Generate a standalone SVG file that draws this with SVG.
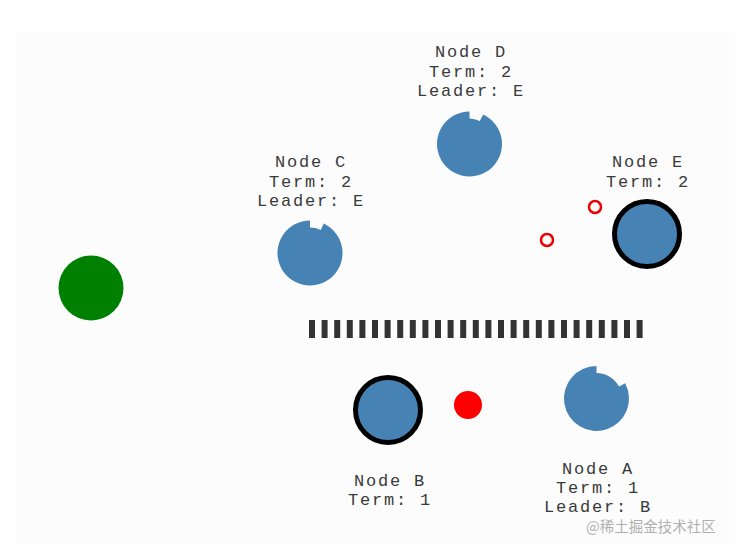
<svg xmlns="http://www.w3.org/2000/svg" width="740" height="549" viewBox="0 0 740 549">
<style>
.lbl{font-family:"Liberation Mono","Courier New",monospace;font-size:17px;letter-spacing:1.8px;fill:#3a3a3a;text-anchor:middle}
.node{fill:#4682B4}
.sel{stroke:#000;stroke-width:5}
.msg{fill:#fff;stroke:#e00;stroke-width:2.5}
.wm{font-family:"Noto Sans CJK SC","Noto Sans",sans-serif;font-size:14.5px;fill:#b0b0b0}
</style>
<rect width="740" height="549" fill="#fff"/>
<rect x="15" y="32" width="720" height="513" fill="#fcfcfc"/>
<g id="connectors">
<line x1="309" y1="329" x2="643" y2="329" stroke="#333" stroke-width="18" stroke-dasharray="6 6.6"/>
</g>
<g id="client"><circle cx="91" cy="288" r="32.5" fill="#008000"/></g>
<g id="nodeD">
<path class="node" d="M483.23,114.54 A32.5,32.5 0 1 1 469.5,111.5 L469.5,118.5 A25.5,25.5 0 0 1 479.78,120.89 Z"/>
<text class="lbl" x="471" y="57">Node D</text>
<text class="lbl" x="471" y="77">Term: 2</text>
<text class="lbl" x="471" y="96">Leader: E</text>
</g>
<g id="nodeC">
<path class="node" d="M323.73,223.54 A32.5,32.5 0 1 1 310,220.5 L310,227.5 A25.5,25.5 0 0 1 320.78,229.89 Z"/>
<text class="lbl" x="311" y="167">Node C</text>
<text class="lbl" x="311" y="187">Term: 2</text>
<text class="lbl" x="311" y="206">Leader: E</text>
</g>
<g id="nodeE">
<circle class="node sel" cx="647" cy="234" r="32.5"/>
<text class="lbl" x="648" y="167">Node E</text>
<text class="lbl" x="648" y="187">Term: 2</text>
</g>
<g id="nodeB">
<circle class="node sel" cx="388" cy="410" r="32.5"/>
<text class="lbl" x="390" y="486">Node B</text>
<text class="lbl" x="390" y="505">Term: 1</text>
</g>
<g id="nodeA">
<path class="node" d="M625.19,383.24 A32.5,32.5 0 1 1 596.5,366 L596.5,373 A25.5,25.5 0 0 1 619.01,386.53 Z"/>
<text class="lbl" x="598" y="474">Node A</text>
<text class="lbl" x="598" y="493">Term: 1</text>
<text class="lbl" x="598" y="512">Leader: B</text>
</g>
<g id="messages">
<circle class="msg" cx="547" cy="240" r="6"/>
<circle class="msg" cx="595" cy="207" r="6"/>
<circle cx="468" cy="405" r="14" fill="#f00"/>
</g>
<text class="wm" x="586" y="532">@稀土掘金技术社区</text>
</svg>
